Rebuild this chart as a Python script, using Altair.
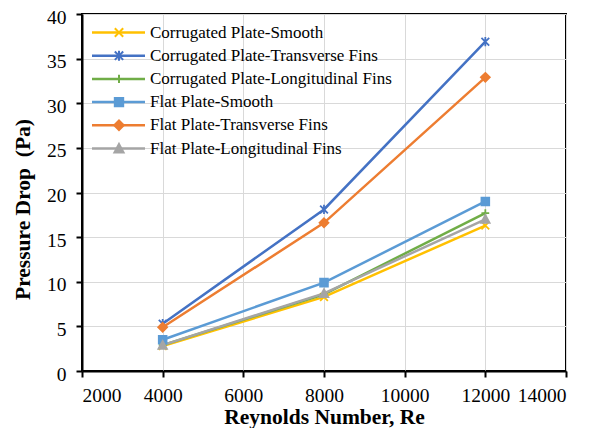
import altair as alt
import pandas as pd

reynolds = [4000, 8000, 12000]
series_names = [
    "Corrugated Plate-Smooth",
    "Corrugated Plate-Transverse Fins",
    "Corrugated Plate-Longitudinal Fins",
    "Flat Plate-Smooth",
    "Flat Plate-Transverse Fins",
    "Flat Plate-Longitudinal Fins",
]
corr_smooth = [2.8, 8.3, 16.3]
corr_transverse = [5.3, 18.1, 36.9]
corr_longitudinal = [2.9, 8.6, 17.7]
flat_smooth = [3.5, 9.9, 19.0]
flat_transverse = [4.9, 16.6, 32.9]
flat_longitudinal = [2.9, 8.7, 17.0]

colors = ["#FFC000", "#4472C4", "#70AD47", "#5B9BD5", "#ED7D31", "#A5A5A5"]

marker_paths = [
    "M-1,-1L1,1M-1,1L1,-1",
    "M-1,-1L1,1M-1,1L1,-1M0,-1.2L0,1.2",
    "M-1,0L1,0M0,-1L0,1",
    "M-1,-1L1,-1L1,1L-1,1Z",
    "M0,-1.15L1.15,0L0,1.15L-1.15,0Z",
    "M0,-1.1L1.1,0.95L-1.1,0.95Z",
]

all_values = [corr_smooth, corr_transverse, corr_longitudinal,
              flat_smooth, flat_transverse, flat_longitudinal]
rows = []
for i, (name, vals) in enumerate(zip(series_names, all_values)):
    for re_, v in zip(reynolds, vals):
        rows.append({"series": name, "order": i, "Re": re_, "dp": v})
df = pd.DataFrame(rows)
legend_df = pd.DataFrame({"series": series_names, "row": list(range(len(series_names)))})

FONT = "Liberation Serif"

color_scale = alt.Scale(domain=series_names, range=colors)
shape_scale = alt.Scale(domain=series_names, range=marker_paths)

x_enc = alt.X("Re:Q", scale=alt.Scale(domain=[2000, 14000], nice=False),
              axis=alt.Axis(values=list(range(2000, 14001, 2000)), title="Reynolds Number, Re",
                            format="d", labelPadding=9,
                            titleBaseline="alphabetic", titleY=52))
y_enc = alt.Y("dp:Q", scale=alt.Scale(domain=[0, 40], nice=False),
              axis=alt.Axis(values=list(range(0, 41, 5)), title="Pressure Drop \u00a0(Pa)",
                            labelPadding=10, labelOffset=3,
                            titleX=-59, titleY=195, titleBaseline="middle"))

lines = alt.Chart(df).mark_line(strokeWidth=2.5).encode(
    x=x_enc, y=y_enc,
    color=alt.Color("series:N", scale=color_scale, legend=None),
    detail="series:N",
    order="order:Q",
)

points = alt.Chart(df).mark_point(filled=True, size=60, strokeWidth=1.8, opacity=1).encode(
    x=x_enc, y=y_enc,
    fill=alt.Fill("series:N", scale=color_scale, legend=None),
    stroke=alt.Stroke("series:N", scale=color_scale, legend=None),
    shape=alt.Shape("series:N", scale=shape_scale, legend=None),
)

data_layers = alt.layer(lines, points)

# legend rows: row index mapped onto the legend's vertical extent
ly = alt.Y("row:Q", scale=alt.Scale(domain=[0, 5], range=[18.5, 134.5], nice=False, zero=False),
           axis=None)

leg_rule = alt.Chart(legend_df).mark_rule(strokeWidth=2.5).encode(
    x=alt.value(10), x2=alt.value(63), y=ly,
    color=alt.Color("series:N", scale=color_scale, legend=None),
)
leg_pts = alt.Chart(legend_df).mark_point(filled=True, size=70, strokeWidth=2, opacity=1).encode(
    x=alt.value(37), y=ly,
    fill=alt.Fill("series:N", scale=color_scale, legend=None),
    stroke=alt.Stroke("series:N", scale=color_scale, legend=None),
    shape=alt.Shape("series:N", scale=shape_scale, legend=None),
)
leg_txt = alt.Chart(legend_df).mark_text(
    align="left", baseline="middle", font=FONT, fontSize=17, color="black"
).encode(x=alt.value(68), y=ly, text="series:N")

legend_layers = alt.layer(leg_rule, leg_pts, leg_txt)

chart = alt.layer(data_layers, legend_layers).resolve_scale(
    y="independent"
).properties(
    width=484, height=357,
    background="white",
    autosize=alt.AutoSizeParams(type="none"),
    padding={"left": 74, "top": 6, "right": 20, "bottom": 57},
).configure_view(
    stroke="black", strokeWidth=2
).configure_axis(
    labelFont=FONT, labelFontSize=19.5, labelColor="black",
    titleFont=FONT, titleFontSize=21.5, titleFontWeight="bold", titleColor="black",
    tickColor="black", tickSize=6, tickWidth=2,
    domainColor="black", domainWidth=2,
    gridColor="#D9D9D9", gridWidth=1,
)

chart.save("out.html", embed_options={"renderer": "svg", "actions": False})
